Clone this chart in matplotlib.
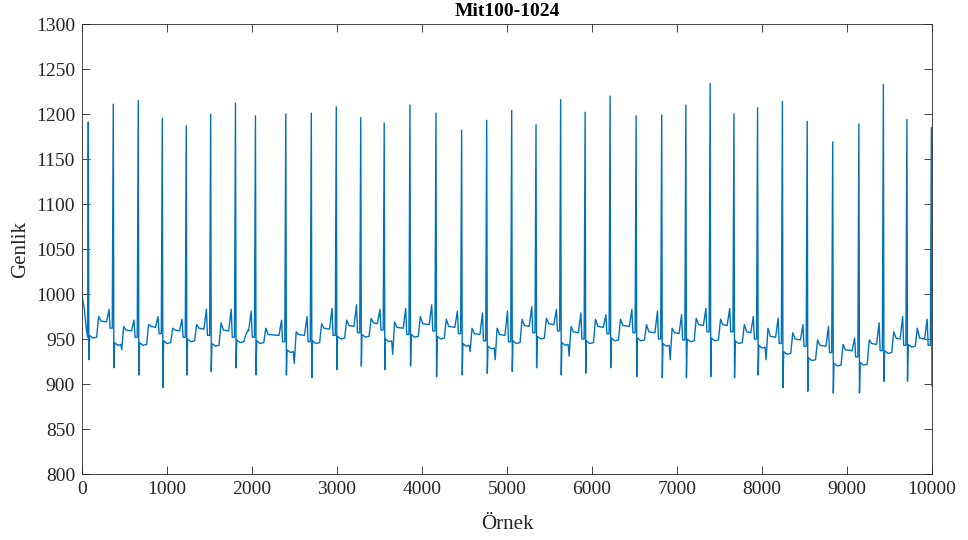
import matplotlib.pyplot as plt
import numpy

plt.rcParams['font.family'] = ['Liberation Serif', 'DejaVu Serif']

# Values (MIT-BIH 100, first 10000 samples)
# Start of record, before the first beat
Lead_Samples = [0, 25, 50, 66]
Lead_Values = [998, 985, 962, 952]
# R peak sample numbers and heights
R_Samples = [74, 368, 662, 945, 1227, 1514, 1806, 2041, 2398, 2698,
             2992, 3280, 3556, 3859, 4165, 4467, 4762, 5056, 5342, 5632,
             5920, 6214, 6520, 6821, 7105, 7391, 7671, 7949, 8241, 8533,
             8833, 9141, 9429, 9706, 9994]
R_Peaks = [1191, 1211, 1215, 1195, 1187, 1200, 1212, 1198, 1200, 1201,
           1208, 1196, 1190, 1210, 1201, 1182, 1193, 1204, 1188, 1216,
           1202, 1220, 1198, 1199, 1210, 1234, 1200, 1207, 1214, 1192,
           1169, 1189, 1233, 1194, 1185]
# S trough after every R peak
S_Troughs = [927, 918, 910, 896, 910, 914, 918, 910, 910, 907,
             916, 920, 916, 920, 908, 910, 912, 914, 918, 910,
             912, 918, 908, 907, 907, 908, 907, 910, 896, 892,
             890, 890, 903, 903, 898]
# Level after the QRS, optional dip, T bump, level after T, P peak before next R
ST_Levels = [952, 944, 944, 946, 948, 943, 947, 946, 936, 946,
             951, 953, 948, 953, 951, 943, 940, 946, 951, 944,
             946, 949, 949, 943, 948, 949, 946, 941, 934, 927,
             921, 922, 935, 942]
Dips = [None, 938, None, None, None, None, None, None, 923, None,
        None, None, 933, None, None, 936, 927, None, None, 931,
        None, None, None, 927, None, None, None, 927, None, None,
        None, None, None, None]
T_Waves = [975, 964, 966, 962, 966, 968, 955, 962, 958, 967,
           971, 973, 969, 975, 972, 962, 962, 972, 973, 964,
           972, 972, 966, 962, 973, 972, 966, 962, 957, 949,
           944, 949, 958, 962]
Mid_Levels = [970, 960, 964, 960, 962, 960, 960, 955, 955, 962,
              965, 968, 963, 967, 964, 956, 955, 965, 967, 958,
              964, 965, 958, 957, 966, 966, 958, 953, 950, 943,
              938, 945, 951, 951]
P_Waves = [983, 971, 975, 972, 983, 983, 981, 971, 975, 984,
           988, 983, 984, 988, 981, 979, 981, 986, 983, 979,
           977, 983, 981, 977, 984, 984, 975, 973, 966, 964,
           951, 968, 975, 972]

Last_Sample = 10000

# Join the read points beat by beat
X = list(Lead_Samples)
Y = list(Lead_Values)
for i in range(len(R_Samples)):
    r = R_Samples[i]
    X += [r, min(r + 7, Last_Sample)]
    Y += [R_Peaks[i], S_Troughs[i]]
    if i == len(R_Samples) - 1:
        break
    nxt = R_Samples[i + 1]
    L = ST_Levels[i]
    M = Mid_Levels[i]
    T = T_Waves[i]
    pts = [(r + 15, L + 2), (r + 55, L - 1)]
    if Dips[i] is not None:
        pts += [(r + 88, L), (r + 100, Dips[i])]
    else:
        pts += [(r + 98, L)]
    pts += [(r + 122, T), (r + 150, M), (nxt - 80, M - 1),
            (nxt - 50, P_Waves[i]), (nxt - 38, M - 8), (nxt - 12, M - 8)]
    for px, py in pts:
        X.append(px)
        Y.append(py)

X = numpy.array(X)
Y = numpy.array(Y)

fig = plt.figure(figsize=(9.68, 5.4), dpi=100)
ax = fig.add_axes([0.0847, 0.1222, 0.878, 0.8333])
ax.plot(X, Y, color='#0072BD', linewidth=1.0)

ax.set_xlim(0, 10000)
ax.set_ylim(800, 1300)
ax.set_xticks(numpy.arange(0, 10001, 1000))
ax.set_yticks(numpy.arange(800, 1301, 50))
ax.tick_params(direction='in', top=True, right=True, length=6, width=0.6,
               labelsize=14, colors='#262626', pad=5)
for s in ax.spines.values():
    s.set_color('#262626')
    s.set_linewidth(0.6)

ax.set_title('Mit100-1024', fontsize=14, fontweight='bold', pad=6)
ax.set_xlabel('Örnek', fontsize=15, color='#262626', labelpad=12)
ax.set_ylabel('Genlik', fontsize=15, color='#262626', labelpad=4)

plt.savefig('out.png', dpi=100)
